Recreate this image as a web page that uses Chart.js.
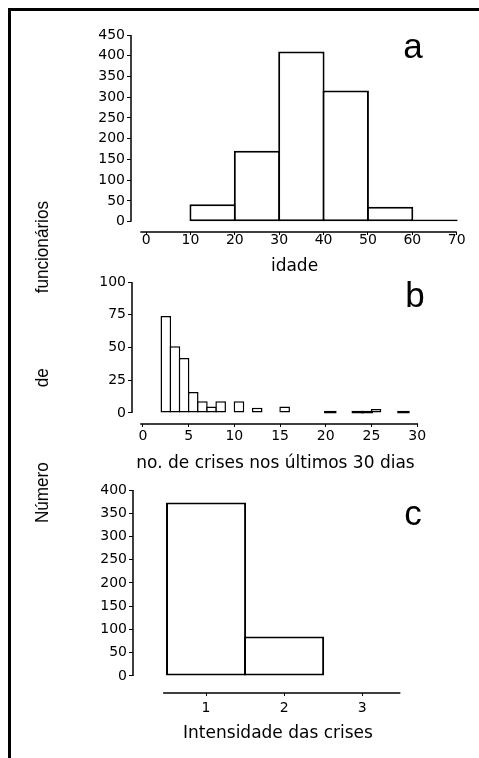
<!DOCTYPE html>
<html>
<head>
<meta charset="utf-8">
<script src="https://cdn.jsdelivr.net/npm/chart.js@4.4.1/dist/chart.umd.min.js"></script>
<style>
  body { margin: 0; background: #fff; width: 479px; height: 758px; position: relative; overflow: hidden; font-family: "Liberation Sans", Arial, sans-serif; color: #000; }
  .frame { position: absolute; left: 8px; top: 8px; right: -10px; bottom: -10px; border-top: 3px solid #000; border-left: 3px solid #000; }
  .panel { position: absolute; left: 0; width: 479px; }
  .tag { position: absolute; font-size: 35px; line-height: 1; transform: translate(-50%, -50%); }
  .ylab { position: absolute; left: 42px; top: 362px; font-size: 19px; white-space: nowrap; word-spacing: 78px;
          transform: translate(-50%, -50%) rotate(-90deg) scaleX(0.9); }
</style>
</head>
<body>
<div class="frame"></div>
<div class="panel" style="top:0;height:280px"><canvas id="chartA" width="479" height="280"></canvas></div>
<div class="panel" style="top:250px;height:230px"><canvas id="chartB" width="479" height="230"></canvas></div>
<div class="panel" style="top:470px;height:288px"><canvas id="chartC" width="479" height="288"></canvas></div>
<div class="tag" style="left:413px;top:45px">a</div>
<div class="tag" style="left:415px;top:294px">b</div>
<div class="tag" style="left:413px;top:512px">c</div>
<div class="ylab">Número de funcionários</div>

<script>
// a - idade (bins of 10 years, centres)
const ageBins = [15, 25, 35, 45, 55, 65];
const ageCounts = [42, 171, 410, 316, 36, 5];
const ageTicksX = [0, 10, 20, 30, 40, 50, 60, 70];
const ageTicksY = [0, 50, 100, 150, 200, 250, 300, 350, 400, 450];

// b - no. de crises nos ultimos 30 dias (bins of 1, centres)
const crisesBins = [2.5, 3.5, 4.5, 5.5, 6.5, 7.5, 8.5, 10.5, 12.5, 15.5, 20.5, 23.5, 24.5, 25.5, 28.5];
const crisesCounts = [74, 51, 42, 16, 9, 5, 9, 9, 4, 5, 1, 1, 1, 3, 1];
const crisesTicksX = [0, 5, 10, 15, 20, 25, 30];
const crisesTicksY = [0, 25, 50, 75, 100];

// c - intensidade das crises
const intensityBins = [1, 2];
const intensityCounts = [373, 85];
const intensityTicksX = [1, 2, 3];
const intensityTicksY = [0, 50, 100, 150, 200, 250, 300, 350, 400];

const tickFont = { family: 'DejaVu Sans', size: 14 };
const titleFont = { family: 'DejaVu Sans', size: 17 };

// axis lines drawn apart from each other, like the original figure
const axisLines = {
  id: 'axisLines',
  afterDraw(chart, args, opts) {
    const { ctx, chartArea } = chart;
    const x = chart.scales.x, y = chart.scales.y;
    ctx.save();
    ctx.strokeStyle = '#000';
    ctx.lineWidth = 1.5;
    ctx.beginPath();
    ctx.moveTo(chartArea.left, y.getPixelForValue(opts.yTop));
    ctx.lineTo(chartArea.left, y.getPixelForValue(0));
    ctx.moveTo(x.getPixelForValue(opts.xFrom), chartArea.bottom);
    ctx.lineTo(x.getPixelForValue(opts.xTo), chartArea.bottom);
    ctx.stroke();
    ctx.restore();
  }
};

// single counts are drawn as a small black dash
const tiny = c => c.raw && c.raw.y < 2;

function histogram(id, bins, counts, ticksX, ticksY, o) {
  return new Chart(document.getElementById(id), {
    type: 'bar',
    data: {
      datasets: [{
        data: bins.map((b, i) => ({ x: b, y: counts[i] })),
        backgroundColor: c => (tiny(c) ? '#000' : '#fff'),
        borderColor: '#000',
        borderWidth: o.bw,
        borderSkipped: false,
        inflateAmount: c => (tiny(c) ? 1 : 0),
        barPercentage: o.bp,   // slightly over 1 so neighbouring edges share one line
        categoryPercentage: 1
      }]
    },
    options: {
      responsive: false,
      animation: false,
      events: [],
      layout: { padding: { left: 0, top: o.top, right: o.right, bottom: 0 } },
      plugins: {
        legend: { display: false },
        tooltip: { enabled: false },
        axisLines: { yTop: ticksY[ticksY.length - 1], xFrom: o.xFrom, xTo: o.xTo }
      },
      scales: {
        x: {
          type: 'linear',
          min: o.xMin, max: o.xMax,
          offset: false,
          afterBuildTicks: s => { s.ticks = ticksX.map(v => ({ value: v })); },
          afterFit: s => { s.height = o.xh; },
          grid: { offset: false, drawOnChartArea: false, drawTicks: true, tickLength: 3, color: '#000' },
          border: { display: false },
          ticks: { font: tickFont, color: '#000', padding: o.xpad, maxRotation: 0, autoSkip: false },
          title: { display: true, text: o.title, font: titleFont, color: '#000', padding: { top: 0, bottom: o.tpad } }
        },
        y: {
          min: o.yMin, max: ticksY[ticksY.length - 1],
          afterBuildTicks: s => { s.ticks = ticksY.map(v => ({ value: v })); },
          afterFit: s => { s.width = o.yw; },
          grid: { drawOnChartArea: false, drawTicks: true, tickLength: 4, color: '#000' },
          border: { display: false },
          ticks: { font: tickFont, color: '#000', padding: 2 }
        }
      }
    },
    plugins: [axisLines]
  });
}

histogram('chartA', ageBins, ageCounts, ageTicksX, ageTicksY, {
  bw: 2, bp: 1.045, top: 35, right: 21, xh: 48, yw: 131, xMin: -3.4, xMax: 70.3, yMin: -25,
  xFrom: -1.3, xTo: 70, xpad: -3, tpad: 3, title: 'idade'
});
histogram('chartB', crisesBins, crisesCounts, crisesTicksX, crisesTicksY, {
  bw: 1.5, bp: 1.16, top: 32, right: 60, xh: 56, yw: 132, xMin: -1.2, xMax: 30.2, yMin: -8.4,
  xFrom: -0.3, xTo: 30.1, xpad: 1, tpad: 6, title: 'no. de crises nos últimos 30 dias'
});
histogram('chartC', intensityBins, intensityCounts, intensityTicksX, intensityTicksY, {
  bw: 2, bp: 1.026, top: 20, right: 56, xh: 65, yw: 133, xMin: 0.064, xMax: 3.78, yMin: -36.6,
  xFrom: 0.45, xTo: 3.49, xpad: 4, tpad: 14, title: 'Intensidade das crises'
});
</script>
</body>
</html>
